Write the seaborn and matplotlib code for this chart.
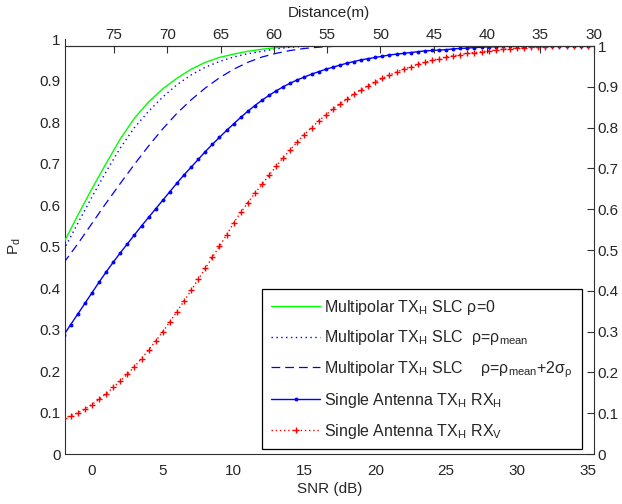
import matplotlib
matplotlib.use("Agg")
import matplotlib.pyplot as plt
import seaborn as sns

# SNR grid (dB) for the multipolar curves
snr_coarse = [-2, -1, 0, 1, 2, 3, 4, 5, 6, 7, 8, 9, 10, 11, 12, 13, 14, 15, 16, 17,
              18, 19, 20, 21, 22, 23, 24, 25, 26, 27, 28, 29, 30, 31, 32, 33, 34, 35]

pd_rho0 = [0.517, 0.585, 0.650, 0.712, 0.772, 0.823, 0.863, 0.895, 0.921, 0.943,
           0.960, 0.972, 0.980, 0.987, 0.992, 0.996, 0.998, 1.0, 1.0, 1.0,
           1.0, 1.0, 1.0, 1.0, 1.0, 1.0, 1.0, 1.0, 1.0, 1.0,
           1.0, 1.0, 1.0, 1.0, 1.0, 1.0, 1.0, 1.0]

pd_rho_mean = [0.500, 0.565, 0.630, 0.692, 0.750, 0.800, 0.840, 0.875, 0.905, 0.929,
               0.948, 0.962, 0.973, 0.981, 0.987, 0.993, 0.997, 0.999, 1.0, 1.0,
               1.0, 1.0, 1.0, 1.0, 1.0, 1.0, 1.0, 1.0, 1.0, 1.0,
               1.0, 1.0, 1.0, 1.0, 1.0, 1.0, 1.0, 1.0]

pd_rho_2sigma = [0.468, 0.515, 0.565, 0.615, 0.663, 0.710, 0.755, 0.797, 0.835, 0.868,
                 0.897, 0.922, 0.943, 0.960, 0.973, 0.982, 0.989, 0.994, 0.997, 0.999,
                 1.0, 1.0, 1.0, 1.0, 1.0, 1.0, 1.0, 1.0, 1.0, 1.0,
                 1.0, 1.0, 1.0, 1.0, 1.0, 1.0, 1.0, 1.0]

# finer SNR grid for the single antenna curves (they carry markers)
snr_fine = [-2, -1.5, -1, -0.5, 0, 0.5, 1, 1.5, 2, 2.5, 3, 3.5, 4, 4.5, 5, 5.5,
            6, 6.5, 7, 7.5, 8, 8.5, 9, 9.5, 10, 10.5, 11, 11.5, 12, 12.5, 13, 13.5,
            14, 14.5, 15, 15.5, 16, 16.5, 17, 17.5, 18, 18.5, 19, 19.5, 20, 20.5,
            21, 21.5, 22, 22.5, 23, 23.5, 24, 24.5, 25, 25.5, 26, 26.5, 27, 27.5,
            28, 28.5, 29, 29.5, 30, 30.5, 31, 31.5, 32, 32.5, 33, 33.5, 34, 34.5, 35]

pd_single_hh = [0.291, 0.317, 0.343, 0.369, 0.395, 0.421, 0.446, 0.470, 0.493, 0.515,
                0.537, 0.559, 0.580, 0.601, 0.622, 0.643, 0.664, 0.684, 0.703, 0.722,
                0.741, 0.759, 0.776, 0.793, 0.809, 0.825, 0.840, 0.854, 0.867, 0.879,
                0.890, 0.900, 0.909, 0.917, 0.924, 0.931, 0.937, 0.943, 0.948, 0.953,
                0.958, 0.962, 0.966, 0.969, 0.972, 0.975, 0.978, 0.980, 0.982, 0.984,
                0.986, 0.988, 0.989, 0.990, 0.991, 0.993, 0.994, 0.995, 0.996, 0.997,
                0.998, 0.998, 0.999, 0.999, 0.999, 1.0, 1.0, 1.0, 1.0, 1.0,
                1.0, 1.0, 1.0, 1.0, 1.0]

pd_single_hv = [0.088, 0.094, 0.101, 0.110, 0.121, 0.134, 0.148, 0.163, 0.179, 0.196,
                0.214, 0.234, 0.255, 0.277, 0.300, 0.324, 0.349, 0.375, 0.401, 0.428,
                0.455, 0.482, 0.509, 0.537, 0.566, 0.592, 0.616, 0.639, 0.661, 0.683,
                0.705, 0.726, 0.746, 0.765, 0.783, 0.800, 0.816, 0.831, 0.845, 0.858,
                0.870, 0.882, 0.893, 0.903, 0.912, 0.921, 0.929, 0.936, 0.943, 0.949,
                0.955, 0.960, 0.965, 0.969, 0.973, 0.976, 0.979, 0.982, 0.984, 0.986,
                0.988, 0.990, 0.992, 0.993, 0.995, 0.996, 0.997, 0.998, 0.998, 0.999,
                0.999, 1.0, 1.0, 1.0, 1.0]

snr_ticks = [0, 5, 10, 15, 20, 25, 30, 35]
dist_ticks = [75, 70, 65, 60, 55, 50, 45, 40, 35, 30]
pd_ticks = [0, 0.1, 0.2, 0.3, 0.4, 0.5, 0.6, 0.7, 0.8, 0.9, 1]
pd_ticklabels = ["0", "0.1", "0.2", "0.3", "0.4", "0.5", "0.6", "0.7", "0.8", "0.9", "1"]

labels = [
    r"Multipolar TX$_H$ SLC $\rho$=0",
    r"Multipolar TX$_H$ SLC  $\rho$=$\rho_{mean}$",
    r"Multipolar TX$_H$ SLC    $\rho$=$\rho_{mean}$+2$\sigma_\rho$",
    r"Single Antenna TX$_H$ RX$_H$",
    r"Single Antenna TX$_H$ RX$_V$",
]

sns.set_style("white")
plt.rcParams["font.family"] = ["Liberation Sans", "DejaVu Sans"]
plt.rcParams["mathtext.fontset"] = "custom"
plt.rcParams["mathtext.rm"] = "Liberation Sans"
plt.rcParams["mathtext.it"] = "Liberation Sans:italic"
plt.rcParams["mathtext.default"] = "regular"
plt.rcParams["font.size"] = 11

axis_col = "#303030"
W, H = 622, 504
fig = plt.figure(figsize=(W / 100, H / 100), dpi=100)

# primary axes: left Pd axis and bottom SNR axis (sits a little higher, like matlab did)
ax = fig.add_axes([65 / W, 50 / H, 528.5 / W, 414.7 / H])
# second axes: curves, right Pd axis, top frame
ax2 = fig.add_axes([65 / W, 50 / H, 528.5 / W, 408 / H])
ax2.patch.set_alpha(0)

for a in (ax, ax2):
    a.set_xlim(-1.9, 35.4)
    a.set_ylim(0, 1)

sns.lineplot(x=snr_coarse, y=pd_rho0, ax=ax2, color="#00ff00", lw=1.0,
             label=labels[0], sort=False)
sns.lineplot(x=snr_coarse, y=pd_rho_mean, ax=ax2, color="#0000ff", lw=1.0,
             dashes=(1, 2.5), label=labels[1], sort=False)
sns.lineplot(x=snr_coarse, y=pd_rho_2sigma, ax=ax2, color="#0000ff", lw=0.9,
             dashes=(7, 4), label=labels[2], sort=False)
sns.lineplot(x=snr_fine, y=pd_single_hh, ax=ax2, color="#0000ff", lw=1.0,
             marker=".", markersize=4, markeredgecolor="#0000ff", markeredgewidth=0.8,
             label=labels[3], sort=False)
sns.lineplot(x=snr_fine, y=pd_single_hv, ax=ax2, color="#ff0000", lw=1.0,
             dashes=(1, 2), marker="+", markersize=4, markeredgecolor="#ff0000",
             markeredgewidth=1.0, label=labels[4], sort=False)

# primary axis styling
ax.set_xticks(snr_ticks)
ax.set_xticklabels([str(t) for t in snr_ticks])
ax.set_yticks(pd_ticks)
ax.set_yticklabels(pd_ticklabels)
ax.tick_params(direction="in", length=5, width=0.8, color=axis_col, labelsize=11)
ax.tick_params(axis="x", pad=7)
ax.tick_params(axis="y", pad=3)
for s in ("top", "right"):
    ax.spines[s].set_visible(False)
for s in ("left", "bottom"):
    ax.spines[s].set_color(axis_col)
    ax.spines[s].set_linewidth(0.8)
ax.set_xlabel("SNR (dB)", fontsize=11, labelpad=3)
ax.set_ylabel("P$_d$", fontsize=11, labelpad=12)

# second axis: right ticks only
ax2.set_xticks([])
ax2.yaxis.tick_right()
ax2.set_yticks(pd_ticks)
ax2.set_yticklabels(pd_ticklabels)
ax2.tick_params(direction="in", length=5, width=0.8, color=axis_col, labelsize=11, pad=3)
for s in ("left", "bottom"):
    ax2.spines[s].set_visible(False)
for s in ("top", "right"):
    ax2.spines[s].set_color(axis_col)
    ax2.spines[s].set_linewidth(0.8)

# top distance axis
ax3 = ax2.twiny()
ax3.set_xlim(79.6, 30)
ax3.set_xticks(dist_ticks)
ax3.set_xticklabels([str(t) for t in dist_ticks])
ax3.tick_params(direction="in", length=5, width=0.8, color=axis_col, labelsize=11, pad=3)
for s in ("left", "bottom", "right"):
    ax3.spines[s].set_visible(False)
ax3.spines["top"].set_color(axis_col)
ax3.spines["top"].set_linewidth(0.8)
ax3.set_xlabel("Distance(m)", fontsize=11, labelpad=8)

leg = ax2.legend(loc="lower right", bbox_to_anchor=(0.9777, 0.0115), borderaxespad=0,
                 frameon=True, fancybox=False, edgecolor="black", framealpha=1,
                 fontsize=11.5, handlelength=3.1, handletextpad=0.25, labelspacing=0.72,
                 borderpad=0.55, numpoints=1)
leg.get_frame().set_linewidth(0.9)

fig.savefig("out.png", dpi=100)
